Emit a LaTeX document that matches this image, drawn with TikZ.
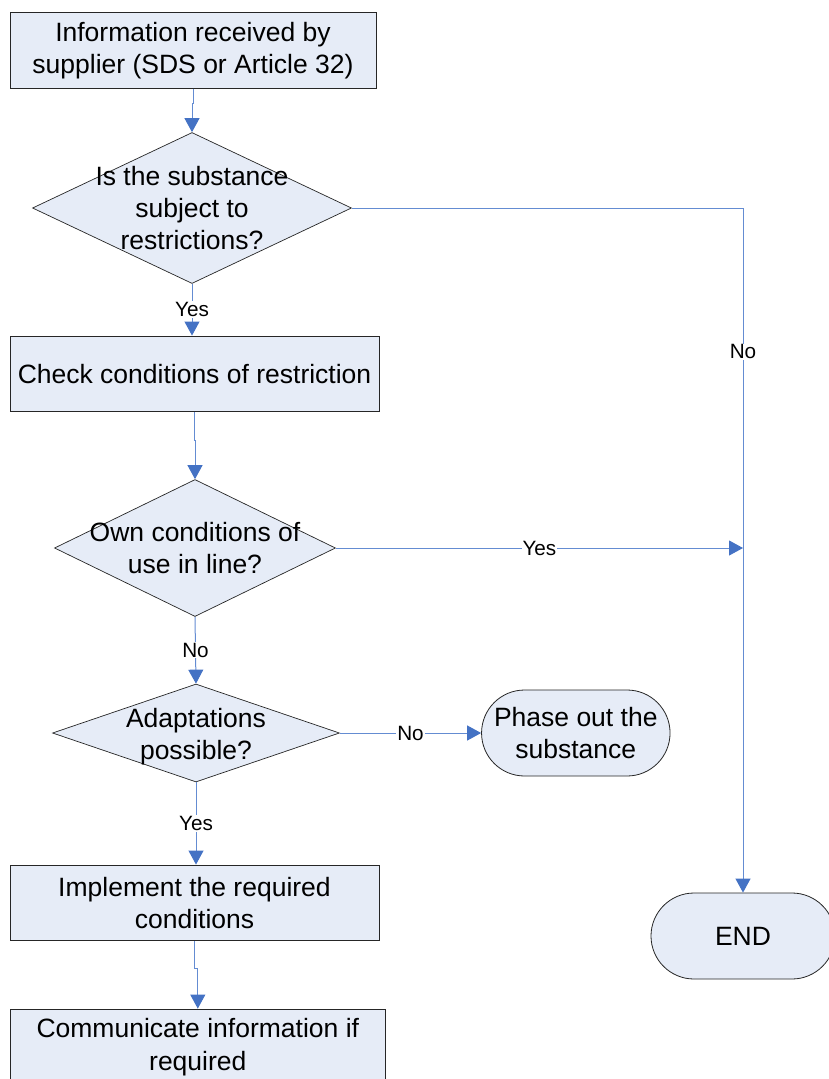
\documentclass[tikz,border=0pt]{standalone}
\usepackage{fontspec}
\setmainfont{Liberation Sans}
\usetikzlibrary{arrows.meta,shapes.geometric,shapes.misc}
\definecolor{boxfill}{RGB}{230,236,247}
\definecolor{conn}{RGB}{100,140,210}
\definecolor{tipc}{RGB}{68,114,196}
\begin{document}
\begin{tikzpicture}[x=1pt,y=-1pt,
  txt/.style={font=\fontsize{26.5}{32.3}\selectfont, align=center},
  procbox/.style={draw=black!85, line width=0.8pt, fill=boxfill, rectangle, inner sep=0pt},
  decision/.style={draw=black!85, line width=0.7pt, fill=boxfill, diamond, inner sep=0pt},
  termin/.style={txt, draw=black!85, line width=0.8pt, fill=boxfill, rounded rectangle, inner sep=0pt},
  flow/.style={draw=conn, line width=1pt, -{Triangle[length=14pt,width=15pt,color=tipc]}},
  lbl/.style={font=\fontsize{20.7}{24}\selectfont, fill=white, inner sep=1pt}
]
\useasboundingbox (0,0) rectangle (829,1079);
\clip (0,0) rectangle (829,1079);

% process boxes
\node[procbox, txt, minimum width=366pt, minimum height=76pt] (b1) at (193,50.3) {Information received by\\supplier (SDS or Article 32)};
\node[procbox, txt, minimum width=369pt, minimum height=75.5pt] (b2) at (194.5,373.7) {Check conditions of restriction};
\node[procbox, txt, minimum width=369pt, minimum height=75.7pt] (b3) at (194.5,902.8) {Implement the required\\conditions};
\node[procbox, txt, minimum width=375.6pt, minimum height=76pt] (b4) at (197.8,1047) {Communicate information if\\required};

% decisions
\node[decision, minimum width=319pt, minimum height=151pt] (d1) at (192,208) {};
\node[txt] (d1t) at (d1) {Is the substance\\subject to\\restrictions?};
\node[decision, minimum width=281pt, minimum height=137pt] (d2) at (195,548) {};
\node[txt] (d2t) at (d2) {Own conditions of\\use in line?};
\node[decision, minimum width=287pt, minimum height=98pt] (d3) at (196,733) {};
\node[txt] (d3t) at ([yshift=-3.5pt]d3.center) {Adaptations\\possible?};

% terminators
\node[termin, minimum width=188.5pt, minimum height=86pt] (ph) at (575.8,733) {Phase out the\\substance};
\node[termin, minimum width=184pt, minimum height=86pt] (endt) at (743,936) {END};

% connectors
\draw[flow] (b1.south) -- ++(0,15) -| (d1.north);
\draw[flow] (d1.south) -- node[lbl]{Yes} (d1.south |- b2.north);
\draw[flow] (b2.south) -- ++(0,29) -| (d2.north);
\draw[flow] (d1.east) -| node[lbl, pos=0.605]{No} (endt.north);
\coordinate (j) at (d2.east -| endt.north);
\draw[flow] (d2.east) -- node[lbl]{Yes} (j);
\draw[flow] (d2.south) -- node[lbl]{No} (d3.north);
\draw[flow] (d3.east) -- node[lbl]{No} (ph.west);
\draw[flow] (d3.south) -- node[lbl]{Yes} (d3.south |- b3.north);
\draw[flow] (b3.south) -- ++(0,27) -| (b4.north);
\end{tikzpicture}
\end{document}
